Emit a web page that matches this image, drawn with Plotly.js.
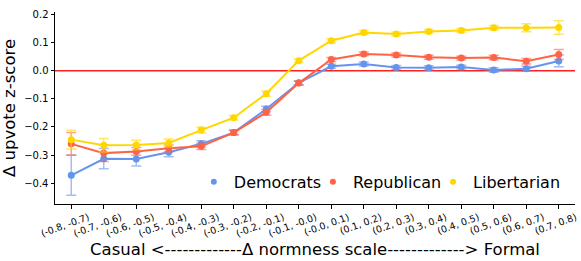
<!DOCTYPE html>
<html>
<head>
<meta charset="utf-8">
<script src="https://cdn.plot.ly/plotly-3.0.1.min.js"></script>
<style>html,body{margin:0;padding:0;background:#fff}#chart{width:581px;height:261px}</style>
</head>
<body>
<div id="chart"></div>
<script>
const categories = ["(-0.8, -0.7)","(-0.7, -0.6)","(-0.6, -0.5)","(-0.5, -0.4)","(-0.4, -0.3)","(-0.3, -0.2)","(-0.2, -0.1)","(-0.1, -0.0)","(-0.0, 0.1)","(0.1, 0.2)","(0.2, 0.3)","(0.3, 0.4)","(0.4, 0.5)","(0.5, 0.6)","(0.6, 0.7)","(0.7, 0.8)"];
const democrats = [-0.372,-0.313,-0.314,-0.290,-0.260,-0.220,-0.136,-0.043,0.016,0.024,0.012,0.011,0.013,0.003,0.007,0.035];
const democratsErr = [0.071,0.036,0.025,0.016,0.011,0.008,0.010,0.007,0.007,0.007,0.007,0.007,0.007,0.008,0.009,0.021];
const republican = [-0.260,-0.293,-0.287,-0.276,-0.269,-0.220,-0.148,-0.044,0.040,0.060,0.056,0.048,0.045,0.047,0.034,0.058];
const republicanErr = [0.040,0.030,0.014,0.012,0.011,0.008,0.010,0.007,0.007,0.007,0.007,0.007,0.007,0.008,0.010,0.018];
const libertarian = [-0.245,-0.265,-0.264,-0.257,-0.211,-0.167,-0.082,0.036,0.107,0.136,0.131,0.140,0.143,0.153,0.153,0.154];
const libertarianErr = [0.033,0.024,0.017,0.014,0.010,0.008,0.009,0.007,0.007,0.007,0.007,0.007,0.007,0.008,0.014,0.024];

const seriesNames = ["Democrats","Republican","Libertarian"];
const seriesColors = ["#6495ED","#FF6347","#FFD700"];
const errColors = ["rgba(100,149,237,0.6)","rgba(255,99,71,0.6)","rgba(255,215,0,0.6)"];
const seriesVals = [democrats, republican, libertarian];
const seriesErrs = [democratsErr, republicanErr, libertarianErr];
const legendIds = ['legend','legend2','legend3'];
const legendX = [0.267, 0.496, 0.727];

const xs = categories.map((c,i)=>i);
const traces = [];
traces.push({x:[-0.5,15.5], y:[0,0], mode:'lines', line:{color:'#FF2020', width:1.5}, showlegend:false, hoverinfo:'skip'});
seriesVals.forEach((v,k)=>{
  traces.push({x:xs, y:v, mode:'lines+markers', name:seriesNames[k], showlegend:false,
    line:{color:seriesColors[k], width:2}, marker:{color:seriesColors[k], size:7},
    error_y:{type:'data', array:seriesErrs[k], visible:true, color:errColors[k], thickness:1.5, width:5}});
});
seriesVals.forEach((v,k)=>{
  traces.push({x:[null], y:[null], mode:'markers', name:seriesNames[k], showlegend:true, legend:legendIds[k],
    marker:{color:seriesColors[k], size:6}});
});

const layout = {
  width:581, height:261,
  margin:{l:55, r:6, t:12, b:57},
  paper_bgcolor:'#fff', plot_bgcolor:'#fff',
  font:{family:'DejaVu Sans', color:'#000'},
  showlegend:true,
  xaxis:{range:[-0.5,15.5], tickmode:'array', tickvals:xs, ticktext:categories, tickangle:-20,
    tickfont:{size:9.5}, ticks:'outside', ticklen:3.5, tickcolor:'#000', showgrid:false, zeroline:false,
    showline:true, linecolor:'#000', linewidth:1, ticklabelshift:17, ticklabeloverflow:'allow',
    title:{text:'Casual <-------------Δ normness scale-------------> Formal', font:{size:16.5}, standoff:5}},
  yaxis:{range:[-0.474,0.209], tickmode:'array', tickvals:[-0.4,-0.3,-0.2,-0.1,0,0.1,0.2],
    ticktext:['−0.4','−0.3','−0.2','−0.1','0.0','0.1','0.2'], tickfont:{size:10},
    ticks:'outside', ticklen:3.5, tickcolor:'#000', showgrid:false, zeroline:false,
    showline:true, linecolor:'#000', linewidth:1,
    title:{text:'Δ upvote z-score', font:{size:16.5}, standoff:5}}
};
legendIds.forEach((id,k)=>{
  layout[id] = {orientation:'h', x:legendX[k], xanchor:'left', y:0.116, yanchor:'middle',
    font:{size:16}, bgcolor:'rgba(0,0,0,0)', itemwidth:30};
});
Plotly.newPlot('chart', traces, layout, {displayModeBar:false, staticPlot:true});
</script>
</body>
</html>
